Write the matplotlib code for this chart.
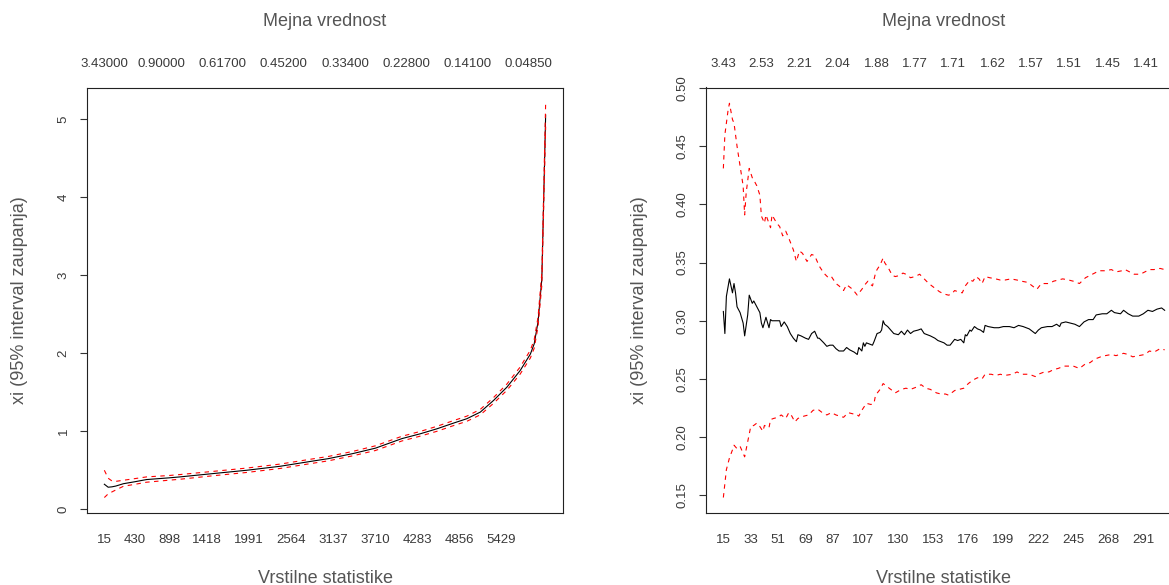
import matplotlib
matplotlib.use("Agg")
import matplotlib.pyplot as plt

# ---------------- data: left panel (all exceedances) ----------------
left_n = [15, 67, 119, 171, 275, 430, 590, 898, 1045, 1500, 1955, 2410, 2864, 3069,
          3400, 3710, 4070, 4325, 4552, 4775, 4956, 5140, 5320, 5502, 5683, 5822,
          5874, 5926, 5978, 6030]
left_xi = [0.323, 0.285, 0.290, 0.300, 0.330, 0.355, 0.383, 0.405, 0.417, 0.460, 0.502,
           0.553, 0.621, 0.651, 0.715, 0.785, 0.907, 0.970, 1.034, 1.106, 1.162, 1.247,
           1.396, 1.566, 1.779, 1.990, 2.120, 2.400, 2.950, 5.050]
left_up = [0.502, 0.400, 0.365, 0.360, 0.374, 0.395, 0.417, 0.435, 0.447, 0.488, 0.530,
           0.581, 0.649, 0.679, 0.743, 0.815, 0.937, 1.000, 1.066, 1.138, 1.195, 1.282,
           1.433, 1.606, 1.824, 2.040, 2.175, 2.460, 3.030, 5.200]
left_lo = [0.153, 0.200, 0.225, 0.250, 0.297, 0.322, 0.349, 0.375, 0.387, 0.432, 0.474,
           0.525, 0.593, 0.623, 0.687, 0.755, 0.877, 0.940, 1.002, 1.074, 1.129, 1.212,
           1.359, 1.526, 1.734, 1.940, 2.065, 2.340, 2.870, 4.900]

left_bottom_ticks = [15, 430, 898, 1418, 1991, 2564, 3137, 3710, 4283, 4856, 5429]
left_top_pos = [15, 796, 1629, 2462, 3295, 4128, 4961, 5794]
left_top_labels = ["3.43000", "0.90000", "0.61700", "0.45200", "0.33400", "0.22800",
                   "0.14100", "0.04850"]
left_yticks = [0, 1, 2, 3, 4, 5]

# ---------------- data: right panel (first 300 exceedances) ----------------
right_xi_n = [15, 16, 17, 19, 21, 22, 23, 24, 26, 28, 29, 31, 32, 34, 35, 37, 39, 40, 41,
              43, 45, 46, 47, 50, 52, 53, 55, 57, 59, 61, 63, 64, 66, 69, 71, 73, 75, 77,
              78, 81, 83, 85, 87, 89, 91, 94, 96, 98, 101, 103, 104, 106, 107, 108, 109,
              111, 113, 114, 116, 118, 119, 120, 121, 123, 125, 127, 130, 132, 134, 136,
              138, 140, 143, 145, 147, 149, 151, 154, 156, 158, 160, 162, 164, 167, 169,
              171, 173, 174, 175, 177, 178, 180, 182, 184, 186, 187, 189, 193, 196, 199,
              203, 206, 209, 212, 216, 219, 220, 222, 224, 228, 231, 234, 236, 237, 240,
              243, 246, 249, 252, 255, 258, 260, 264, 267, 270, 272, 276, 278, 281, 284,
              288, 291, 294, 297, 300, 303, 305]
right_xi = [0.308, 0.289, 0.321, 0.336, 0.324, 0.332, 0.324, 0.312, 0.307, 0.298, 0.287,
            0.305, 0.322, 0.315, 0.317, 0.312, 0.307, 0.298, 0.294, 0.303, 0.294, 0.301,
            0.300, 0.300, 0.300, 0.295, 0.299, 0.295, 0.289, 0.285, 0.282, 0.288, 0.287,
            0.285, 0.284, 0.289, 0.291, 0.285, 0.285, 0.281, 0.278, 0.279, 0.279, 0.276,
            0.274, 0.274, 0.277, 0.275, 0.273, 0.271, 0.277, 0.274, 0.281, 0.278, 0.281,
            0.280, 0.279, 0.282, 0.289, 0.290, 0.292, 0.300, 0.297, 0.295, 0.292, 0.289,
            0.288, 0.291, 0.288, 0.292, 0.289, 0.291, 0.292, 0.293, 0.289, 0.288, 0.287,
            0.285, 0.283, 0.282, 0.281, 0.279, 0.279, 0.284, 0.283, 0.284, 0.281, 0.288,
            0.287, 0.292, 0.291, 0.295, 0.293, 0.292, 0.290, 0.296, 0.295, 0.294, 0.294,
            0.295, 0.295, 0.294, 0.296, 0.295, 0.293, 0.290, 0.289, 0.292, 0.294, 0.295,
            0.295, 0.297, 0.295, 0.298, 0.299, 0.298, 0.297, 0.295, 0.299, 0.301, 0.301,
            0.305, 0.306, 0.306, 0.309, 0.307, 0.306, 0.309, 0.306, 0.304, 0.304, 0.306,
            0.309, 0.308, 0.310, 0.311, 0.309]

right_up_n = [15, 16, 17, 18, 19, 21, 22, 23, 24, 26, 28, 29, 30, 32, 34, 35, 37, 39, 40,
              42, 43, 46, 47, 50, 52, 54, 56, 58, 61, 63, 65, 67, 70, 73, 75, 78, 81, 84,
              86, 89, 91, 94, 96, 98, 100, 103, 106, 108, 110, 112, 113, 115, 116, 118,
              120, 121, 124, 126, 128, 131, 133, 135, 138, 141, 144, 147, 150, 154, 157,
              160, 163, 165, 167, 169, 172, 174, 177, 179, 181, 183, 185, 187, 190, 194,
              197, 200, 204, 208, 211, 215, 218, 221, 224, 229, 232, 235, 238, 242, 245,
              249, 253, 256, 259, 262, 266, 270, 273, 277, 279, 282, 285, 289, 292, 295,
              298, 302, 305]
right_up = [0.431, 0.460, 0.470, 0.480, 0.487, 0.473, 0.470, 0.460, 0.450, 0.433, 0.416,
            0.391, 0.410, 0.431, 0.423, 0.421, 0.416, 0.408, 0.390, 0.384, 0.391, 0.380,
            0.391, 0.384, 0.381, 0.373, 0.377, 0.371, 0.361, 0.351, 0.360, 0.358, 0.351,
            0.357, 0.356, 0.347, 0.341, 0.337, 0.338, 0.332, 0.330, 0.326, 0.331, 0.329,
            0.327, 0.322, 0.327, 0.331, 0.334, 0.331, 0.330, 0.341, 0.344, 0.348, 0.354,
            0.350, 0.344, 0.339, 0.338, 0.339, 0.341, 0.340, 0.337, 0.338, 0.340, 0.336,
            0.332, 0.328, 0.325, 0.323, 0.322, 0.323, 0.326, 0.325, 0.324, 0.330, 0.335,
            0.334, 0.338, 0.336, 0.332, 0.338, 0.337, 0.336, 0.335, 0.335, 0.336, 0.335,
            0.334, 0.333, 0.330, 0.327, 0.332, 0.332, 0.334, 0.335, 0.336, 0.335, 0.334,
            0.332, 0.337, 0.339, 0.341, 0.343, 0.343, 0.344, 0.342, 0.343, 0.344, 0.342,
            0.340, 0.340, 0.342, 0.344, 0.344, 0.345, 0.344]

right_lo_n = [15, 16, 17, 19, 21, 22, 24, 26, 27, 29, 31, 33, 35, 37, 39, 41, 42, 45, 46,
              48, 51, 53, 56, 58, 60, 62, 64, 68, 71, 74, 77, 80, 83, 86, 89, 94, 97, 100,
              102, 104, 106, 109, 112, 114, 115, 118, 120, 122, 125, 128, 132, 135, 138,
              142, 145, 148, 151, 155, 158, 161, 163, 167, 170, 173, 176, 179, 182, 185,
              187, 191, 194, 197, 200, 205, 208, 211, 216, 220, 222, 226, 229, 232, 235,
              239, 242, 245, 249, 253, 256, 259, 263, 266, 270, 273, 278, 281, 284, 288,
              292, 295, 298, 302, 305]
right_lo = [0.148, 0.160, 0.172, 0.182, 0.189, 0.193, 0.190, 0.192, 0.189, 0.183, 0.196,
            0.209, 0.210, 0.212, 0.209, 0.205, 0.210, 0.208, 0.215, 0.216, 0.217, 0.219,
            0.216, 0.221, 0.218, 0.213, 0.216, 0.218, 0.219, 0.223, 0.224, 0.221, 0.219,
            0.221, 0.219, 0.217, 0.221, 0.220, 0.220, 0.218, 0.223, 0.229, 0.228, 0.229,
            0.236, 0.241, 0.246, 0.244, 0.241, 0.238, 0.241, 0.242, 0.241, 0.243, 0.245,
            0.242, 0.241, 0.238, 0.237, 0.237, 0.236, 0.240, 0.241, 0.242, 0.246, 0.249,
            0.251, 0.250, 0.254, 0.254, 0.253, 0.254, 0.253, 0.254, 0.256, 0.254, 0.254,
            0.252, 0.254, 0.256, 0.256, 0.258, 0.259, 0.261, 0.261, 0.261, 0.259, 0.263,
            0.264, 0.267, 0.269, 0.270, 0.271, 0.270, 0.272, 0.271, 0.269, 0.270, 0.271,
            0.274, 0.273, 0.276, 0.275]

right_bottom_ticks = [15, 33, 51, 69, 87, 107, 130, 153, 176, 199, 222, 245, 268, 291]
right_top_pos = [15, 40, 65, 90, 116, 141, 166, 192, 217, 242, 268, 293]
right_top_labels = ["3.43", "2.53", "2.21", "2.04", "1.88", "1.77", "1.71", "1.62",
                    "1.57", "1.51", "1.45", "1.41"]
right_yticks = [0.15, 0.20, 0.25, 0.30, 0.35, 0.40, 0.45, 0.50]
right_ytick_labels = ["0.15", "0.20", "0.25", "0.30", "0.35", "0.40", "0.45", "0.50"]

xlabel = "Vrstilne statistike"
toplabel = "Mejna vrednost"
ylabel = "xi (95% interval zaupanja)"

# ---------------- styling ----------------
plt.rcParams['font.family'] = ['Liberation Sans', 'DejaVu Sans']
TICK_FS = 9.5
LAB_FS = 13
TICK_COL = '#3a3a3a'
LAB_COL = '#555555'

W, H = 1169, 585
fig = plt.figure(figsize=(W / 100, H / 100), dpi=100)


def rect(l, t, r, b):
    return [l / W, 1 - b / H, (r - l) / W, (b - t) / H]


def r_range(*series):
    lo = min(min(s) for s in series)
    hi = max(max(s) for s in series)
    d = (hi - lo) * 0.04
    return lo - d, hi + d


axL = fig.add_axes(rect(86.7, 87.5, 563.3, 513.3))
axR = fig.add_axes(rect(705.7, 87.5, 1182.3, 513.3))

dash = (0, (4, 4))
lw = 0.8

# left panel
axL.plot(left_n, left_xi, color='black', lw=lw)
axL.plot(left_n, left_up, color='red', lw=lw, ls=dash)
axL.plot(left_n, left_lo, color='red', lw=lw, ls=dash)
axL.set_xlim(*r_range(left_n))
axL.set_ylim(*r_range(left_xi, left_up, left_lo))
axL.set_xticks(left_bottom_ticks, [str(v) for v in left_bottom_ticks])
axL.set_yticks(left_yticks, [str(v) for v in left_yticks])
secL = axL.secondary_xaxis('top')
secL.set_xticks(left_top_pos, left_top_labels)

# right panel
axR.plot(right_xi_n, right_xi, color='black', lw=lw)
axR.plot(right_up_n, right_up, color='red', lw=lw, ls=dash)
axR.plot(right_lo_n, right_lo, color='red', lw=lw, ls=dash)
axR.set_xlim(*r_range(right_xi_n))
axR.set_ylim(*r_range(right_xi, right_up, right_lo))
axR.set_xticks(right_bottom_ticks, [str(v) for v in right_bottom_ticks])
axR.set_yticks(right_yticks, right_ytick_labels)
secR = axR.secondary_xaxis('top')
secR.set_xticks(right_top_pos, right_top_labels)

for ax, sec, cx, ylx in [(axL, secL, (86.7 + 563.3) / 2, 20),
                         (axR, secR, (705.7 + 1182.3) / 2, 639)]:
    for sp in ax.spines.values():
        sp.set_linewidth(0.8)
        sp.set_color('#222222')
    for sp in sec.spines.values():
        sp.set_visible(False)
    ax.tick_params(axis='x', length=0, pad=15, labelsize=TICK_FS, labelcolor=TICK_COL)
    sec.tick_params(axis='x', length=0, pad=12.5, labelsize=TICK_FS, labelcolor=TICK_COL)
    ax.tick_params(axis='y', length=5, width=0.8, color='#333333', pad=7.2,
                   labelsize=TICK_FS, labelcolor=TICK_COL, labelrotation=90)
    for t in ax.get_yticklabels():
        t.set_va('center')
    fig.text(cx / W, 1 - 26 / H, toplabel, ha='center', va='baseline',
             fontsize=LAB_FS, color=LAB_COL)
    fig.text(cx / W, 1 - 583 / H, xlabel, ha='center', va='baseline',
             fontsize=LAB_FS, color=LAB_COL)
    fig.text(ylx / W, 1 - 300.4 / H, ylabel, ha='center', va='center', rotation=90,
             fontsize=LAB_FS, color=LAB_COL)

fig.savefig("out.png", dpi=100)
